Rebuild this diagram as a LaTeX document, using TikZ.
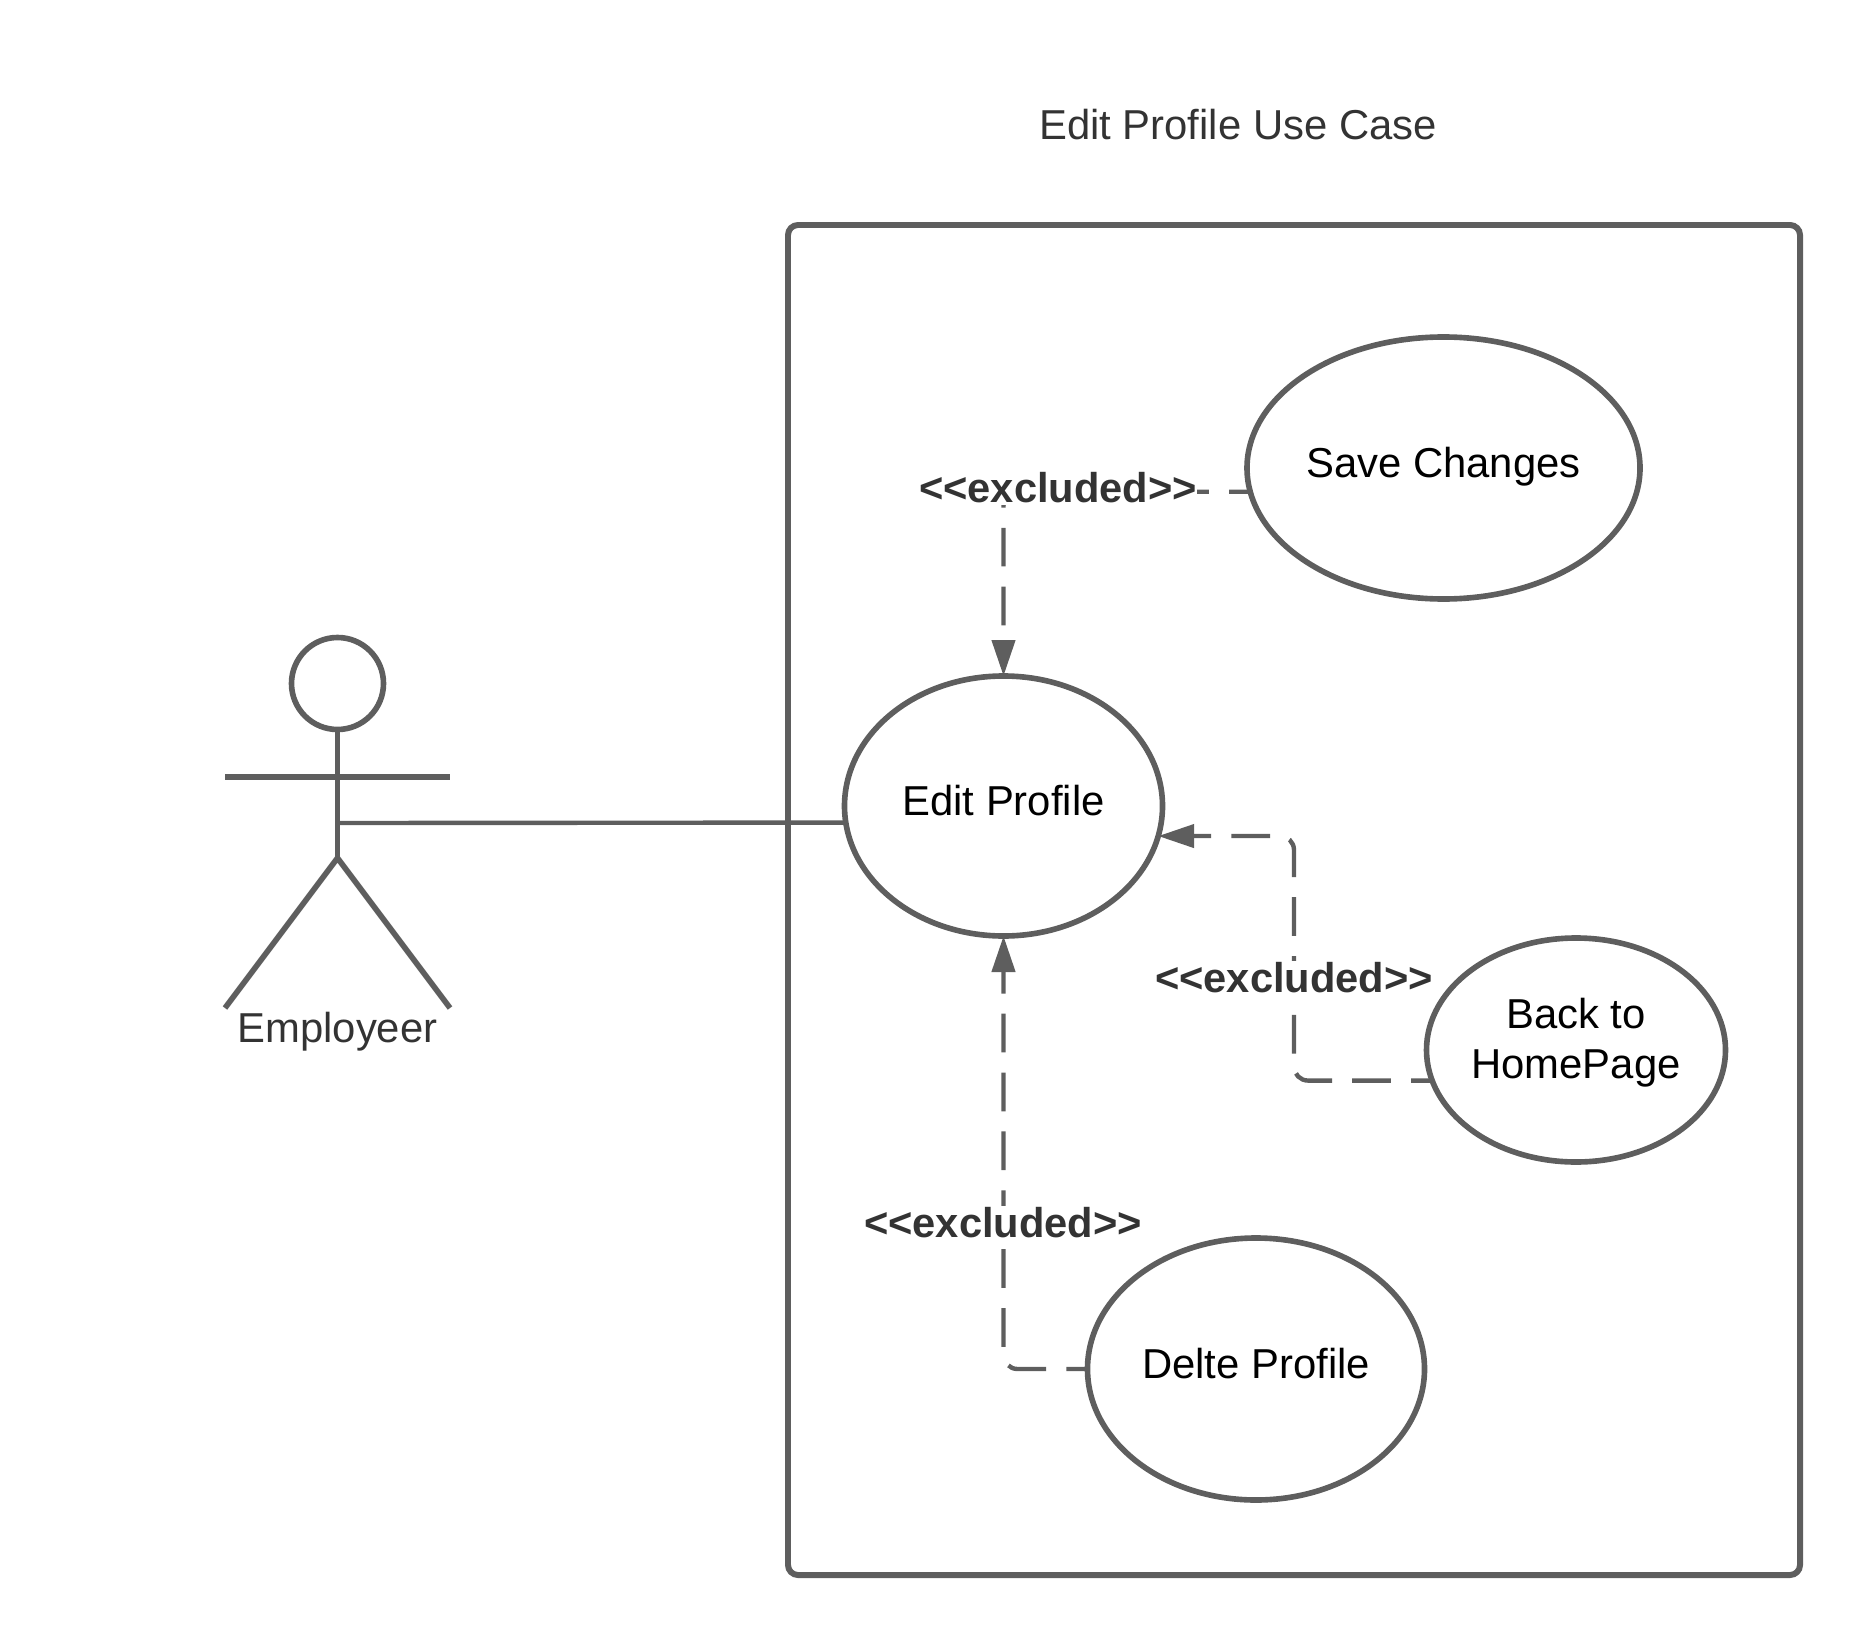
\documentclass[tikz,border=0pt]{standalone}
\usepackage{xcolor}
\usepackage{fontspec}
\setmainfont{Liberation Sans}
\usetikzlibrary{arrows.meta,shapes.geometric}
\definecolor{umlline}{HTML}{5E5E5E}
\definecolor{umltext}{HTML}{333333}
\tikzset{
  usecase/.style={draw=umlline, line width=3.2pt, ellipse, outer sep=0pt, inner sep=0pt, align=center, text=black, font=\fontsize{23.8}{28.6}\selectfont},
  onerow/.style={text height=0.6cm, text depth=0.24cm},
  stereo/.style={fill=white, text=umltext, inner xsep=0pt, inner ysep=1pt, font=\fontsize{23.7}{28}\selectfont\bfseries},
  caption/.style={text=umltext, inner sep=0pt, anchor=base, font=\fontsize{23.8}{28.6}\selectfont},
  excl/.style={draw=umlline, line width=2.5pt, rounded corners=0.28cm, dash pattern=on 22pt off 11.5pt, dash phase=10pt},
  excltip/.style={-{Triangle[length=0.72cm,width=0.46cm,fill=umlline]}},
  stick/.style={draw=umlline, line width=3.2pt}
}
\begin{document}
\begin{tikzpicture}
    \useasboundingbox (0,0) rectangle (37.5,-33);

    % Title and system box
    \node[caption] (title) at (24.76,-2.8) {Edit Profile Use Case};
    \node[draw=umlline, line width=3.4pt, rounded corners=0.2cm, outer sep=0pt, minimum width=20.24cm, minimum height=27cm] (system) at (25.88,-18) {};

    % Use cases
    \node[usecase, onerow, minimum width=6.36cm, minimum height=5.2cm] (edit) at (20.07,-16.12) {Edit Profile};
    \node[usecase, onerow, minimum width=7.86cm, minimum height=5.24cm] (save) at (28.87,-9.36) {Save Changes};
    \node[usecase, text depth=0.48cm, minimum width=5.98cm, minimum height=4.48cm] (back) at (31.52,-21) {Back to\\HomePage};
    \node[usecase, onerow, minimum width=6.74cm, minimum height=5.24cm] (delete) at (25.12,-27.38) {Delte Profile};

    % Actor
    \node[draw=umlline, line width=3.2pt, circle, outer sep=0pt, minimum size=1.84cm] (head) at (6.75,-13.67) {};
    \coordinate (hip) at (6.75,-17.16);
    \coordinate (waist) at (6.75,-16.46);
    \coordinate (armleft) at (4.5,-15.54);
    \coordinate (armright) at (9,-15.54);
    \coordinate (footleft) at (4.5,-20.16);
    \coordinate (footright) at (9,-20.16);
    \draw[stick] (head.south) -- (hip);
    \draw[stick] (armleft) -- (armright);
    \draw[stick] (footleft) -- (hip) -- (footright);
    \node[caption] (employer) at (6.75,-20.84) {Employeer};

    % Connectors
    \draw[stick, line width=2.5pt] (waist) -- (edit.186.07);
    \draw[excl, excltip] (save.187.7) -| (edit.north);
    \draw[excl, excltip] (back.192) -| (25.88,-16.72) -- (edit.-11.5);
    \draw[excl, excltip] (delete.west) -| (edit.south);

    % Stereotype labels
    \node[stereo] (savelabel) at (21.16,-9.76) {<{}<excluded>{}>};
    \node[stereo] (backlabel) at (25.88,-19.56) {<{}<excluded>{}>};
    \node[stereo] (deletelabel) at (20.06,-24.46) {<{}<excluded>{}>};
\end{tikzpicture}
\end{document}
